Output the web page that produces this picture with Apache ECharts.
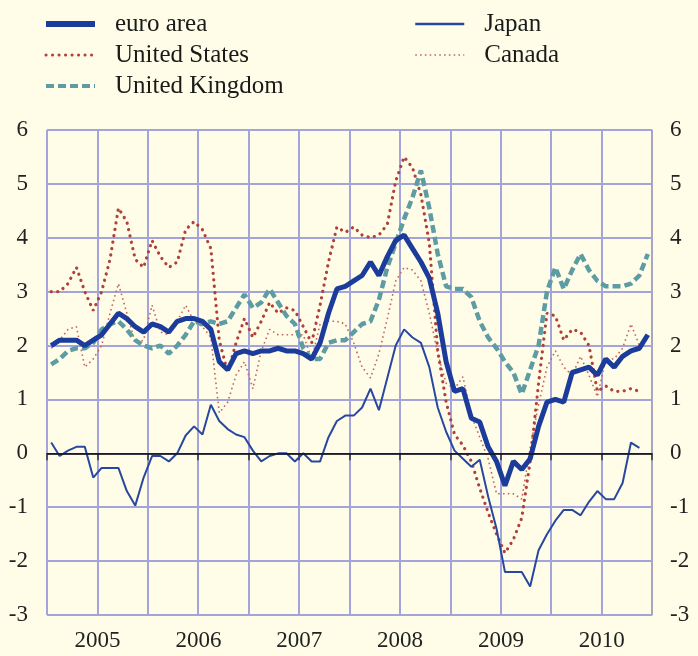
<!DOCTYPE html>
<html>
<head>
<meta charset="utf-8">
<script src="https://cdn.jsdelivr.net/npm/echarts@6/dist/echarts.min.js"></script>
<style>
html, body { margin: 0; padding: 0; background: #fffde8; }
#main { width: 698px; height: 656px; }
</style>
</head>
<body>
<div id="main"></div>
<script>
// monthly, Jan 2005 - Dec 2010
var years = ['2005', '2006', '2007', '2008', '2009', '2010'];
var months = [];
years.forEach(function (y) {
  for (var m = 1; m <= 12; m++) months.push(y + '-' + (m < 10 ? '0' + m : m));
});

var euroArea = [
  2.0, 2.1, 2.1, 2.1, 2.0, 2.1, 2.2, 2.4, 2.6, 2.5, 2.35, 2.25,
  2.4, 2.35, 2.25, 2.45, 2.5, 2.5, 2.45, 2.3, 1.7, 1.55, 1.85, 1.9,
  1.85, 1.9, 1.9, 1.95, 1.9, 1.9, 1.85, 1.75, 2.05, 2.6, 3.05, 3.1,
  3.2, 3.3, 3.55, 3.3, 3.65, 3.95, 4.05, 3.8, 3.55, 3.25, 2.6, 1.7,
  1.15, 1.2, 0.65, 0.58, 0.12, -0.15, -0.6, -0.15, -0.3, -0.1, 0.5, 0.95,
  1.0, 0.95, 1.5, 1.55, 1.6, 1.45, 1.75, 1.6, 1.8, 1.9, 1.95, 2.2
];
var unitedStates = [
  3.0, 3.0, 3.15, 3.45, 3.0, 2.65, 3.0, 3.6, 4.55, 4.3, 3.6, 3.45,
  3.95, 3.65, 3.45, 3.55, 4.15, 4.3, 4.15, 3.8, 2.1, 1.5, 2.05, 2.5,
  2.15, 2.45, 2.8, 2.6, 2.7, 2.65, 2.35, 2.05, 2.75, 3.55, 4.2, 4.1,
  4.2, 4.05, 4.0, 4.05, 4.25, 5.05, 5.5, 5.3, 4.8, 3.9, 1.9, 0.95,
  0.35, 0.15, -0.15, -0.65, -1.1, -1.5, -1.85, -1.6, -1.2, -0.15, 1.3, 2.6,
  2.55, 2.1, 2.3, 2.25, 2.0, 1.15, 1.25, 1.15, 1.15, 1.2, 1.15, null
];
var unitedKingdom = [
  1.65, 1.75, 1.9, 1.95, 1.95, 2.05, 2.3, 2.4, 2.45, 2.3, 2.1, 2.0,
  1.95, 2.0, 1.85, 2.0, 2.2, 2.45, 2.4, 2.45, 2.4, 2.45, 2.7, 2.95,
  2.7, 2.8, 3.05, 2.8, 2.55, 2.4, 1.95, 1.75, 1.75, 2.05, 2.1, 2.1,
  2.25, 2.4, 2.45, 2.85, 3.45, 3.9, 4.35, 4.75, 5.25, 4.55, 3.7, 3.1,
  3.05, 3.05, 2.9, 2.45, 2.15, 1.95, 1.7, 1.5, 1.1, 1.55, 2.0, 3.0,
  3.45, 3.05, 3.4, 3.7, 3.4, 3.2, 3.1, 3.1, 3.1, 3.15, 3.3, 3.7
];
var japan = [
  0.2, -0.05, 0.05, 0.12, 0.12, -0.45, -0.27, -0.27, -0.27, -0.7, -0.97, -0.45,
  -0.05, -0.05, -0.15, 0.0, 0.33, 0.5, 0.35, 0.9, 0.6, 0.45, 0.35, 0.3,
  0.05, -0.15, -0.05, 0.0, 0.0, -0.15, 0.0, -0.15, -0.15, 0.3, 0.6, 0.7,
  0.7, 0.85, 1.2, 0.8, 1.4, 2.0, 2.3, 2.15, 2.05, 1.6, 0.85, 0.4,
  0.05, -0.1, -0.25, -0.12, -0.8, -1.4, -2.2, -2.2, -2.2, -2.47, -1.8, -1.5,
  -1.25, -1.05, -1.05, -1.15, -0.9, -0.7, -0.85, -0.85, -0.55, 0.2, 0.1, null
];
var canada = [
  1.95, 2.1, 2.3, 2.35, 1.6, 1.75, 2.0, 2.6, 3.15, 2.6, 2.05, 2.1,
  2.75, 2.25, 2.2, 2.45, 2.75, 2.45, 2.35, 2.15, 0.75, 0.95, 1.45, 1.7,
  1.2, 1.9, 2.3, 2.2, 2.2, 2.2, 2.2, 1.75, 2.4, 2.45, 2.45, 2.4,
  2.05, 1.6, 1.4, 1.85, 2.5, 3.2, 3.45, 3.4, 3.2, 2.6, 1.85, 1.3,
  1.2, 1.42, 0.7, 0.3, -0.1, -0.75, -0.75, -0.75, -0.85, 0.1, 0.9, 1.6,
  1.9, 1.6, 1.45, 1.8, 1.45, 1.05, 1.75, 1.75, 1.95, 2.4, 2.0, null
];

var serif = "'Liberation Serif', 'Times New Roman', serif";
var gridColor = '#a3a4dc';

var chart = echarts.init(document.getElementById('main'));

var legendText = {
  fontFamily: serif, fontSize: 25, color: '#1a1a1a',
  padding: [0, 0, 0, 15], lineHeight: 26
};
var legendBase = {
  orient: 'vertical', top: 6,
  itemWidth: 49, itemHeight: 12, itemGap: 5,
  itemStyle: { opacity: 0 },
  textStyle: legendText
};

var option = {
  backgroundColor: '#fffde8',
  animation: false,
  legend: [
    Object.assign({}, legendBase, {
      left: 38,
      data: [
        { name: 'euro area', lineStyle: { width: 6 } },
        { name: 'United States', lineStyle: { width: 3 } },
        { name: 'United Kingdom', lineStyle: { width: 4 } }
      ]
    }),
    Object.assign({}, legendBase, {
      left: 409,
      data: [
        { name: 'Japan', lineStyle: { width: 2.5 } },
        { name: 'Canada', lineStyle: { width: 1.5 } }
      ]
    })
  ],
  grid: { left: 47, right: 46, top: 130, bottom: 41, containLabel: false },
  xAxis: {
    type: 'category',
    data: months,
    boundaryGap: true,
    axisLine: { show: true, lineStyle: { color: '#444', width: 1 } },
    axisTick: {
      show: true, length: 7, lineStyle: { color: '#333', width: 1.5 },
      interval: function (i) { return i % 6 === 0; }
    },
    splitLine: {
      show: true, lineStyle: { color: gridColor, width: 2 },
      interval: function (i) { return i % 6 === 0; }
    },
    axisLabel: {
      interval: function (i) { return i % 12 === 6; },
      formatter: function (v) { return v.slice(0, 4); },
      fontFamily: serif, fontSize: 23, color: '#222',
      margin: 14, padding: [0, 8, 0, 0]
    }
  },
  yAxis: [{
    type: 'value', min: -3, max: 6, interval: 1, position: 'left',
    axisLine: { show: false },
    axisTick: { show: false },
    splitLine: { show: true, lineStyle: { color: gridColor, width: 2 } },
    axisLabel: { fontFamily: serif, fontSize: 23, color: '#222', margin: 19 }
  }, {
    type: 'value', min: -3, max: 6, interval: 1, position: 'right',
    axisLine: { show: true, lineStyle: { color: '#a8a8b8', width: 1.5 } },
    axisTick: { show: false },
    splitLine: { show: false },
    axisLabel: { fontFamily: serif, fontSize: 23, color: '#222', margin: 18 }
  }],
  series: [{
    name: 'Canada', type: 'line', data: canada, symbol: 'none',
    lineStyle: { color: '#c4665c', width: 1.6, type: [1.6, 3.2] },
    itemStyle: { color: '#c4665c' },
    markLine: {
      silent: true, symbol: 'none', label: { show: false },
      lineStyle: { color: '#111', width: 1.5, type: 'solid' },
      data: [{ yAxis: 0 }]
    }
  }, {
    name: 'United States', type: 'line', data: unitedStates, symbol: 'none',
    lineStyle: { color: '#b0403a', width: 3.2, type: [0.1, 6.4], cap: 'round' },
    itemStyle: { color: '#b0403a' }
  }, {
    name: 'United Kingdom', type: 'line', data: unitedKingdom, symbol: 'none',
    lineStyle: { color: '#5e9ca4', width: 4.5, type: [8, 4] },
    itemStyle: { color: '#5e9ca4' }
  }, {
    name: 'Japan', type: 'line', data: japan, symbol: 'none',
    lineStyle: { color: '#2848a0', width: 2 },
    itemStyle: { color: '#2848a0' }
  }, {
    name: 'euro area', type: 'line', data: euroArea, symbol: 'none',
    lineStyle: { color: '#1c3c9c', width: 5 },
    itemStyle: { color: '#1c3c9c' }
  }]
};

chart.setOption(option);
</script>
</body>
</html>
